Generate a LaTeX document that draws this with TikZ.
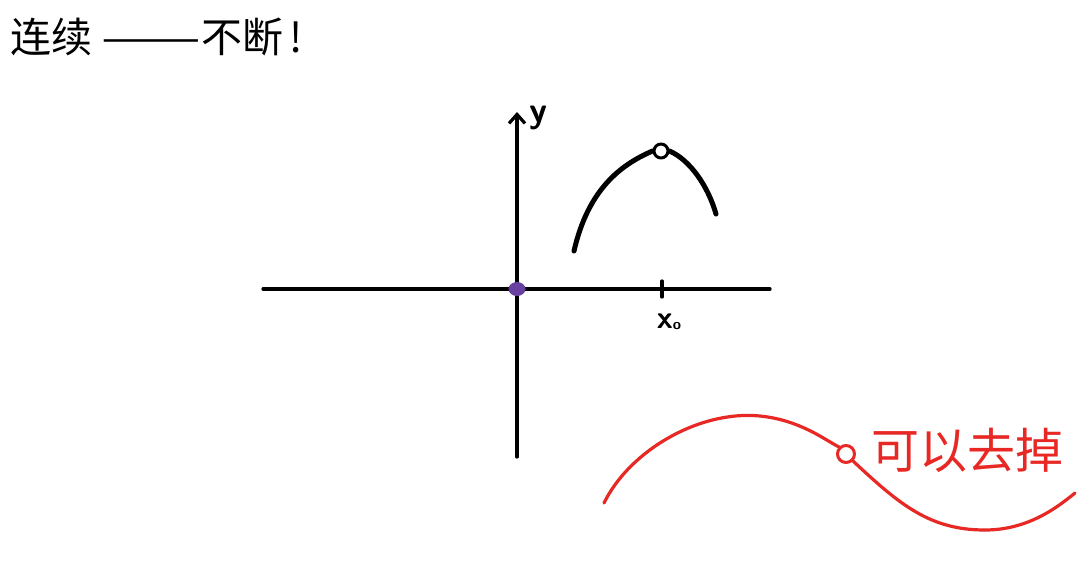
\documentclass[tikz,border=0pt]{standalone}
\usepackage{fontspec}
\newfontfamily\cjk{Noto Sans CJK SC}
\usetikzlibrary{arrows.meta}
\definecolor{penRed}{RGB}{232,40,36}
\definecolor{dotPurple}{RGB}{104,64,160}
\begin{document}
\begin{tikzpicture}[x=1pt, y=-1pt, line cap=round, line join=round]
% canvas in pixel units of the reference
\providecommand{\axisLineWidth}{3.2pt}
\providecommand{\penLineWidth}{5pt}
\useasboundingbox (0,0) rectangle (1090,566);
% Title
\node[anchor=west, font=\cjk\fontsize{41}{44}\selectfont, inner sep=0pt] (title) at (10,37) {连续 \scalebox{1.45}[1]{——}不断\,!};
% Axes
\begin{scope}[line width=\axisLineWidth]
  \coordinate (xl) at (263,289);
  \coordinate (xr) at (770,289);
  \coordinate (yb) at (517,457);
  \coordinate (yt) at (517,112);
  \coordinate (o) at (517,289);
  \draw (xl) -- (xr);
  \draw[-{Straight Barb[length=9pt,width=16pt]}] (yb) -- (yt);
  \node[anchor=west, font=\fontsize{36}{36}\sffamily\bfseries, inner sep=0pt] (ylab) at (528,118) {y};
  \fill[dotPurple] (o) ellipse (8.5 and 7);
  % tick at x0
  \coordinate (x0) at (662,289);
  \draw ([yshift=8pt]x0) -- ([yshift=-8pt]x0);
  \node[font=\fontsize{32}{32}\sffamily\bfseries, inner sep=0pt] (xlab) at (669,322) {x\raisebox{-1pt}{\fontsize{15}{15}\selectfont o}};
\end{scope}
% Black curve with a hole at x0
\begin{scope}[line width=\penLineWidth]
  \coordinate (c0) at (574,251);
  \coordinate (c1) at (716,214);
  \node[circle, draw, line width=3pt, minimum size=14pt, inner sep=0pt, fill=white] (hole) at (661,151) {};
  \draw (c0) .. controls (588,190) and (620,165) .. (hole.west);
  \draw (hole.east) .. controls (690,160) and (708,186) .. (c1);
\end{scope}
% Red curve with removable point
\begin{scope}[penRed, line width=3.2pt]
  \coordinate (r0) at (604,503);
  \coordinate (r1) at (1075,493);
  \node[circle, draw, line width=3pt, minimum size=17pt, inner sep=0pt] (rhole) at (846,454) {};
  \draw (r0) .. controls (630,450) and (700,410) .. (760,416)
        .. controls (800,420) and (825,440) .. (rhole.north west);
  \draw (rhole.south east) .. controls (900,505) and (930,530) .. (985,530)
        .. controls (1030,530) and (1060,505) .. (r1);
  \node[anchor=west, font=\cjk\fontsize{48}{48}\selectfont, inner sep=0pt, text=penRed] (rtext) at (870,450) {可以去掉};
\end{scope}
\end{tikzpicture}
\end{document}
